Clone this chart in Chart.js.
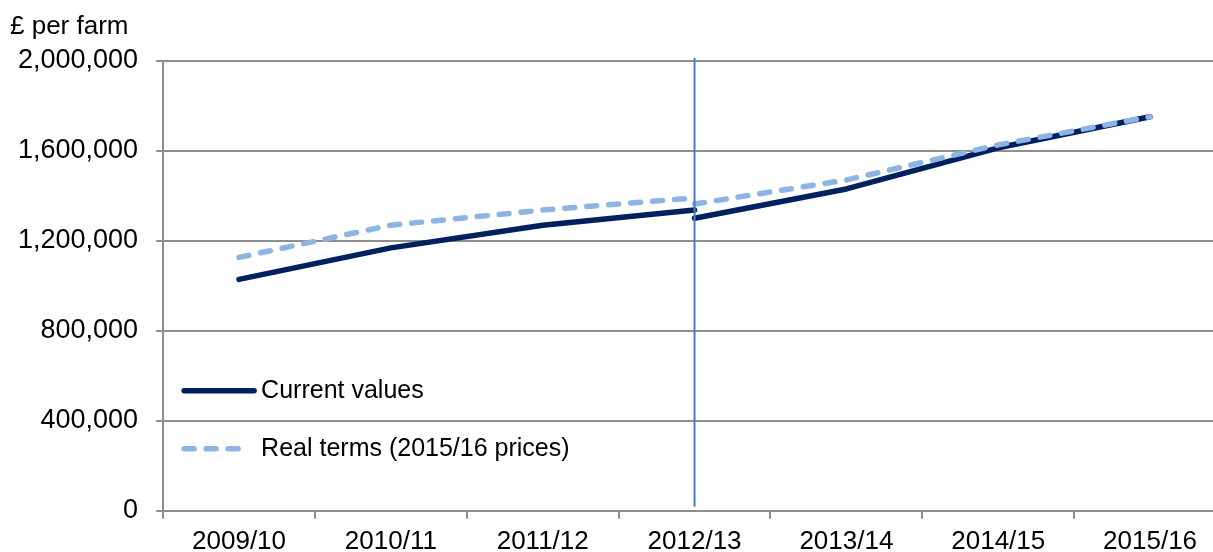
<!DOCTYPE html>
<html>
<head>
<meta charset="utf-8">
<script src="https://cdn.jsdelivr.net/npm/chart.js@4/dist/chart.umd.min.js"></script>
<style>
  html, body { margin: 0; padding: 0; background: #fff; overflow: hidden; }
  #wrap { width: 1240px; height: 552px; }
</style>
</head>
<body>
<div id="wrap"><canvas id="farmChart" width="1240" height="552"></canvas></div>
<script>
// ========== DATA ==========
const categories = ["2009/10", "2010/11", "2011/12", "2012/13", "2013/14", "2014/15", "2015/16"];

// series break at 2012/13, so each series is split in two parts
const currentBefore = [1029000, 1169000, 1270000, 1337000, null, null, null];
const currentAfter  = [null, null, null, 1301000, 1431000, 1614000, 1752000];
const realBefore    = [1127000, 1270000, 1337000, 1391000, null, null, null];
const realAfter     = [null, null, null, 1364000, 1471000, 1627000, 1752000];

const legendLabels = ["Current values", "Real terms (2015/16 prices)"];
const unitLabel = "£ per farm";
const breakCategory = "2012/13";

const yTicks = { min: 0, max: 2000000, step: 400000 };

// ========== STYLE ==========
const FONT = "'Liberation Sans', Arial, sans-serif";
const DARK = "#002060";
const LIGHT = "#8db4e2";
const GRID = "#8f8f8f";

const solidLine = (data) => ({
  data,
  borderColor: DARK,
  borderWidth: 5.5,
  borderCapStyle: "round",
  borderJoinStyle: "round",
  pointRadius: 0,
  tension: 0,
  fill: false,
  spanGaps: false,
});

const dashedLine = (data) => ({
  ...solidLine(data),
  borderColor: LIGHT,
  borderDash: [10, 12],
});

// ========== PLUGINS ==========
const extrasPlugin = {
  id: "extras",
  afterDatasetsDraw(chart) {
    const { ctx, chartArea, scales } = chart;
    ctx.save();

    // vertical marker at the series break
    const bx = scales.x.getPixelForValue(categories.indexOf(breakCategory));
    ctx.strokeStyle = "#4a7ebb";
    ctx.lineWidth = 2;
    ctx.beginPath();
    ctx.moveTo(bx, chartArea.top - 3);
    ctx.lineTo(bx, chartArea.bottom - 4);
    ctx.stroke();

    // legend inside the plot, bottom-left
    const lx = chartArea.left + 21;
    const rows = [
      { y: chartArea.bottom - 120, color: DARK, dash: [], len: 70 },
      { y: chartArea.bottom - 62, color: LIGHT, dash: [10, 12], len: 62 },
    ];
    ctx.lineCap = "round";
    ctx.lineWidth = 5.5;
    rows.forEach((r, i) => {
      ctx.strokeStyle = r.color;
      ctx.setLineDash(r.dash);
      ctx.beginPath();
      ctx.moveTo(lx, r.y);
      ctx.lineTo(lx + r.len, r.y);
      ctx.stroke();
      ctx.setLineDash([]);
      ctx.fillStyle = "#000";
      ctx.font = "25px " + FONT;
      ctx.textBaseline = "middle";
      ctx.textAlign = "left";
      ctx.fillText(legendLabels[i], lx + 77, r.y);
    });

    // unit label above the axis
    ctx.font = "26px " + FONT;
    ctx.textBaseline = "middle";
    ctx.fillText(unitLabel, 10, 27);
    ctx.restore();
  },
};

// ========== CHART ==========
const ctx = document.getElementById("farmChart").getContext("2d");
new Chart(ctx, {
  type: "line",
  data: {
    labels: categories,
    datasets: [
      dashedLine(realBefore),
      dashedLine(realAfter),
      solidLine(currentBefore),
      solidLine(currentAfter),
    ],
  },
  options: {
    responsive: false,
    animation: false,
    devicePixelRatio: 1,
    layout: { padding: { top: 61, right: 14, bottom: -12, left: 0 } },
    plugins: {
      legend: { display: false },
      tooltip: { enabled: false },
    },
    scales: {
      x: {
        offset: true,
        grid: {
          offset: true,
          drawOnChartArea: false,
          drawTicks: true,
          tickLength: 8,
          color: GRID,
          lineWidth: 2,
        },
        border: { color: GRID, width: 2 },
        ticks: {
          color: "#000",
          font: { family: FONT, size: 26 },
          padding: 7,
          maxRotation: 0,
          autoSkip: false,
        },
      },
      y: {
        min: yTicks.min,
        max: yTicks.max,
        grid: { color: GRID, lineWidth: 2, tickLength: 7 },
        border: { color: GRID, width: 2 },
        ticks: {
          stepSize: yTicks.step,
          color: "#000",
          font: { family: FONT, size: 27 },
          padding: 18,
          callback: (v) => v.toLocaleString("en-GB"),
        },
      },
    },
  },
  plugins: [extrasPlugin],
});
</script>
</body>
</html>
